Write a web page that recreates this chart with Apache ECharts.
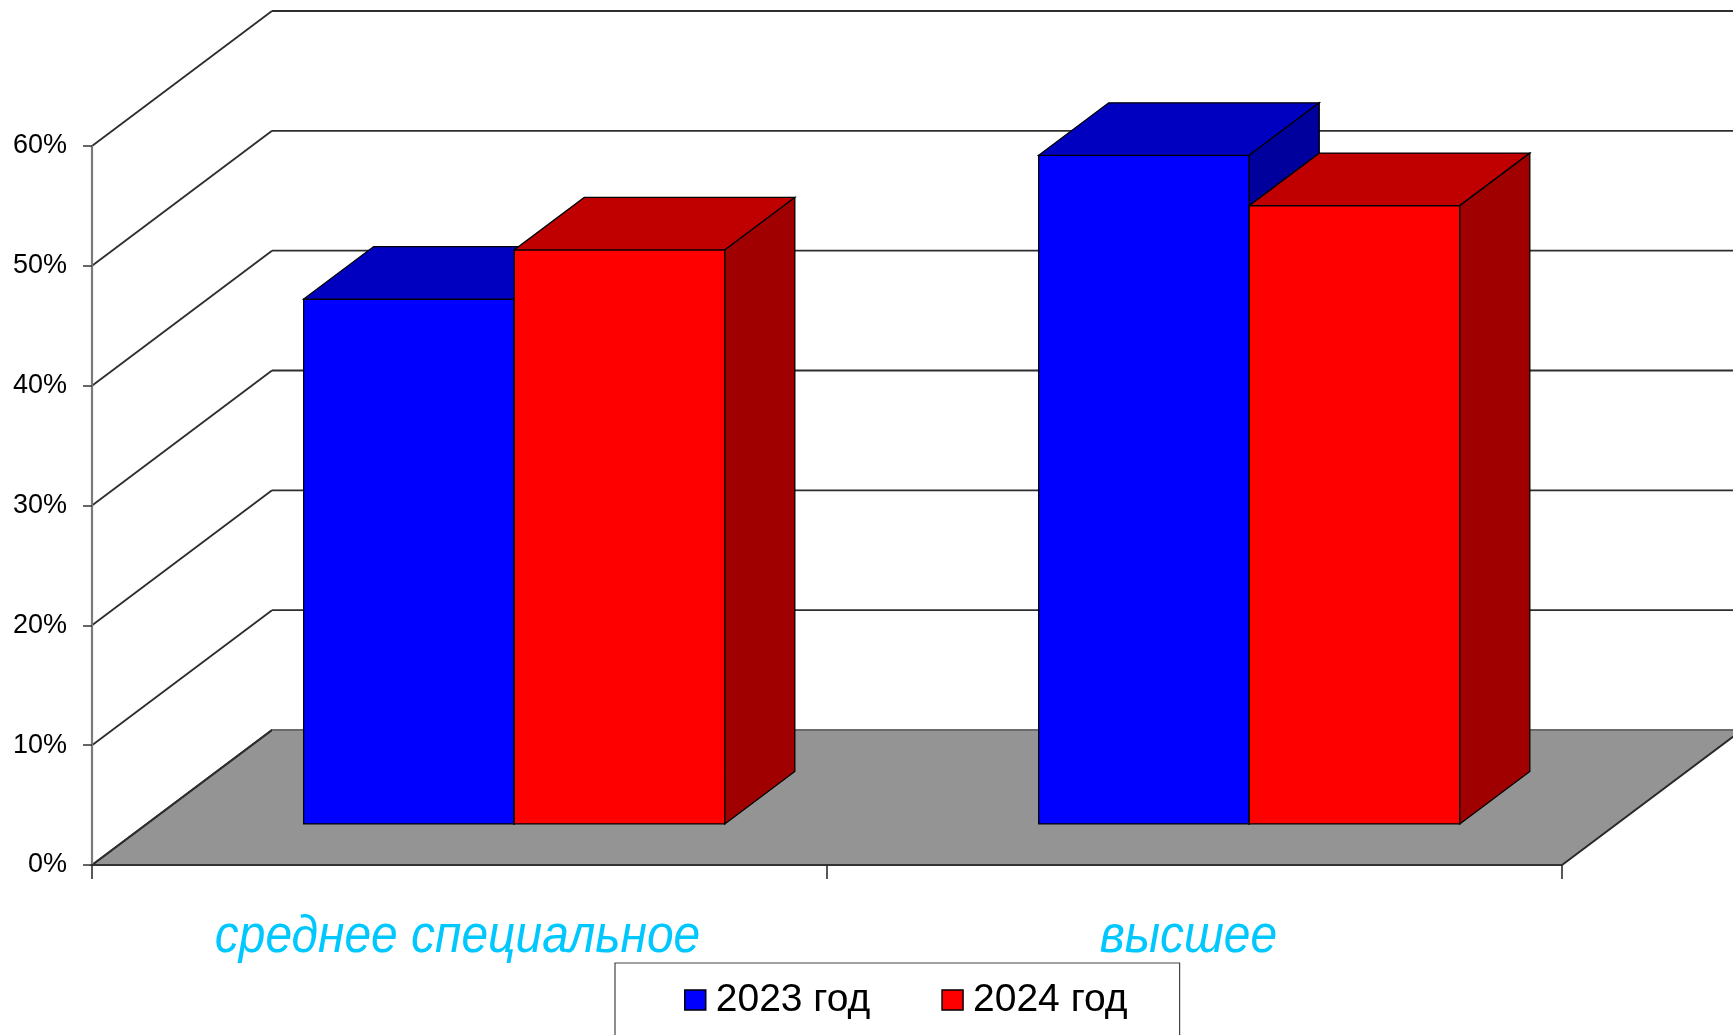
<!DOCTYPE html>
<html>
<head>
<meta charset="utf-8">
<script src="https://cdn.jsdelivr.net/npm/echarts@6/dist/echarts.min.js"></script>
<style>
  html, body { margin: 0; padding: 0; background: #fff; }
  #main { width: 1733px; height: 1035px; }
</style>
</head>
<body>
<div id="main"></div>
<script>
// данные
const categories = ['среднее специальное', 'высшее']
const seriesNames = ['2023 год', '2024 год']
const values2023 = [0.438, 0.558]
const values2024 = [0.479, 0.516]
const yTicks = [0, 0.1, 0.2, 0.3, 0.4, 0.5, 0.6]

// псевдо-3D: смещение задней стенки в пикселях
const DEPTH_X = 180
const DEPTH_Y = 135
const BAR_FRONT = 0.304 // где передняя грань столбцов (доля глубины)
const BAR_DEPTH = 0.389 // глубина столбца (доля глубины)
const BAR_W = 0.2865 // ширина столбца (доля категории)

const font = "'Liberation Sans', Arial, sans-serif"
const faces = [
  { front: '#0000ff', top: '#0000c0', side: '#00009c' },
  { front: '#ff0000', top: '#c00000', side: '#a00000' }
]

// стенки, пол, линии сетки и подписи оси Y
function wallItem (params, api) {
  const cs = params.coordSys
  const v = api.value(1)
  const y = api.coord([0, v])[1]
  const x0 = cs.x
  const x1 = cs.x + cs.width
  const line = { stroke: '#2e2e2e', lineWidth: 1.9 }
  const children = []
  if (v === 0) {
    children.push({
      type: 'polygon',
      shape: { points: [[x0, y], [x1, y], [x1 + DEPTH_X, y - DEPTH_Y], [x0 + DEPTH_X, y - DEPTH_Y]] },
      style: { fill: '#949494', stroke: '#2a2a2a', lineWidth: 1.9 }
    })
  }
  children.push({ type: 'line', shape: { x1: x0, y1: y, x2: x0 + DEPTH_X, y2: y - DEPTH_Y }, style: line })
  children.push({
    type: 'line',
    shape: { x1: x0 + DEPTH_X, y1: y - DEPTH_Y, x2: x1 + DEPTH_X, y2: y - DEPTH_Y },
    style: v === 0 ? { stroke: '#6a6a6a', lineWidth: 1.9 } : line
  })
  children.push({
    type: 'text',
    x: x0 - 25,
    y: y,
    style: {
      text: Math.round(v * 100) + '%',
      x: 0,
      y: 0,
      font: '27px ' + font,
      fill: '#000',
      align: 'right',
      verticalAlign: 'middle'
    }
  })
  return { type: 'group', children: children }
}

function barItem (s) {
  return function (params, api) {
    const ci = api.value(0)
    const base = api.coord([ci, 0])
    const top = api.coord([ci, api.value(1)])[1]
    const w = api.size([1, 0])[0] * BAR_W
    const ox = DEPTH_X * BAR_FRONT
    const oy = DEPTH_Y * BAR_FRONT
    const dx = DEPTH_X * BAR_DEPTH
    const dy = DEPTH_Y * BAR_DEPTH
    const xl = base[0] + (s === 0 ? -w : 0) + ox
    const xr = xl + w
    const yb = base[1] - oy
    const yt = top - oy
    const f = faces[s]
    const edge = { stroke: '#000', lineWidth: 1.3 }
    return {
      type: 'group',
      children: [
        { type: 'rect', shape: { x: xl, y: yt, width: w, height: yb - yt }, style: Object.assign({ fill: f.front }, edge) },
        { type: 'polygon', shape: { points: [[xl, yt], [xr, yt], [xr + dx, yt - dy], [xl + dx, yt - dy]] }, style: Object.assign({ fill: f.top }, edge) },
        { type: 'polygon', shape: { points: [[xr, yt], [xr + dx, yt - dy], [xr + dx, yb - dy], [xr, yb]] }, style: Object.assign({ fill: f.side }, edge) }
      ]
    }
  }
}

// подписи категорий под осью
function catLabel (params, api) {
  const ci = api.value(0)
  const p = api.coord([ci, 0])
  return {
    type: 'text',
    x: p[0] - 2 - ci * 4,
    y: p[1] + 73,
    scaleX: 0.94,
    style: {
      text: categories[ci],
      x: 0,
      y: 0,
      font: 'italic 51px ' + font,
      fill: '#00c8ff',
      align: 'center',
      verticalAlign: 'middle'
    }
  }
}

const chart = echarts.init(document.getElementById('main'))
chart.setOption({
  animation: false,
  backgroundColor: '#fff',
  grid: { left: 92, right: 171, top: 146, bottom: 170, outerBoundsMode: 'none' },
  legend: {
    data: seriesNames,
    left: 615,
    top: 963,
    padding: [16, 52, 60, 69],
    itemGap: 71,
    itemWidth: 21,
    itemHeight: 20,
    icon: 'rect',
    backgroundColor: '#fff',
    borderColor: '#444',
    borderWidth: 1.2,
    itemStyle: { borderColor: '#000', borderWidth: 1.5 },
    textStyle: { fontFamily: font, fontSize: 39, color: '#000', lineHeight: 42, padding: [0, 0, 0, 5] }
  },
  xAxis: {
    type: 'category',
    data: categories,
    z: 5,
    axisLine: { lineStyle: { color: '#333', width: 2 } },
    axisTick: { show: true, interval: 0, length: 14, lineStyle: { color: '#222', width: 1.5 } },
    axisLabel: { show: false, interval: 0 }
  },
  yAxis: {
    type: 'value',
    min: 0,
    max: 0.6,
    interval: 0.1,
    z: 5,
    axisLine: { show: true, lineStyle: { color: '#7a7a7a', width: 2.2 } },
    axisTick: { show: true, length: 9, lineStyle: { color: '#333', width: 1.5 } },
    splitLine: { show: false },
    axisLabel: { show: false }
  },
  series: [
    {
      type: 'custom',
      name: 'стенки',
      silent: true,
      z: 1,
      renderItem: wallItem,
      encode: { x: 0, y: 1 },
      data: yTicks.map(v => [0, v])
    },
    {
      type: 'custom',
      name: seriesNames[0],
      z: 3,
      renderItem: barItem(0),
      itemStyle: { color: faces[0].front },
      encode: { x: 0, y: 1 },
      data: values2023.map((v, i) => [i, v])
    },
    {
      type: 'custom',
      name: seriesNames[1],
      z: 4,
      renderItem: barItem(1),
      itemStyle: { color: faces[1].front },
      encode: { x: 0, y: 1 },
      data: values2024.map((v, i) => [i, v])
    },
    {
      type: 'custom',
      name: 'подписи',
      silent: true,
      z: 2,
      renderItem: catLabel,
      encode: { x: 0, y: 1 },
      data: categories.map((c, i) => [i, 0])
    }
  ]
})
</script>
</body>
</html>
